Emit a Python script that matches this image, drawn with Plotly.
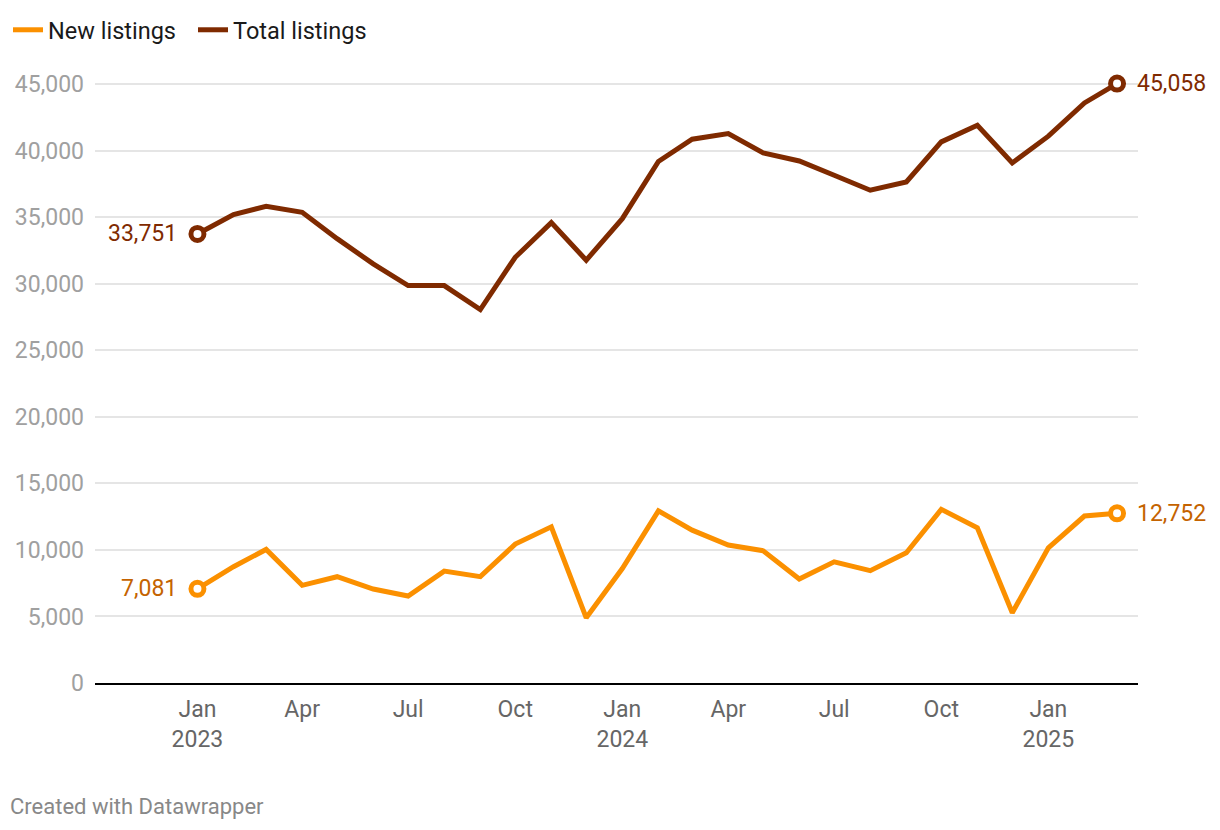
import plotly.graph_objects as go

months = ["2023-01-01", "2023-02-01", "2023-03-01", "2023-04-01", "2023-05-01", "2023-06-01",
          "2023-07-01", "2023-08-01", "2023-09-01", "2023-10-01", "2023-11-01", "2023-12-01",
          "2024-01-01", "2024-02-01", "2024-03-01", "2024-04-01", "2024-05-01", "2024-06-01",
          "2024-07-01", "2024-08-01", "2024-09-01", "2024-10-01", "2024-11-01", "2024-12-01",
          "2025-01-01", "2025-02-01", "2025-03-01"]

new_listings = [7081, 8740, 10040, 7340, 7990, 7060, 6540, 8410, 7990, 10440, 11740, 4900,
                8600, 12940, 11490, 10370, 9940, 7810, 9110, 8440, 9790, 13050, 11670, 5280,
                10160, 12550, 12752]

total_listings = [33751, 35210, 35830, 35380, 33400, 31500, 29870, 29870, 28070, 32000, 34600, 31780,
                  34900, 39200, 40870, 41300, 39840, 39240, 38160, 37040, 37660, 40670, 41920, 39090,
                  41100, 43600, 45058]

tick_vals = ["2023-01-01", "2023-04-01", "2023-07-01", "2023-10-01", "2024-01-01", "2024-04-01",
             "2024-07-01", "2024-10-01", "2025-01-01"]
tick_text = ["Jan<br>2023", "Apr", "Jul", "Oct", "Jan<br>2024", "Apr", "Jul", "Oct", "Jan<br>2025"]

y_ticks = [0, 5000, 10000, 15000, 20000, 25000, 30000, 35000, 40000, 45000]
y_tick_text = ["0", "5,000", "10,000", "15,000", "20,000", "25,000", "30,000", "35,000", "40,000", "45,000"]

ORANGE = "#fb9000"
ORANGE_TXT = "#c46300"
BROWN = "#7f2a00"
BROWN_TXT = "#7f2a00"
FONT = "Roboto"

W, H = 1212, 822
L, R, T, B = 87, 82, 63, 147
PW, PH = W - L - R, H - T - B

fig = go.Figure()

series = [("New listings", new_listings, ORANGE, ORANGE_TXT),
          ("Total listings", total_listings, BROWN, BROWN_TXT)]

for name, vals, col, tcol in series:
    fig.add_trace(go.Scatter(x=months, y=vals, mode="lines", name=name,
                             line=dict(color=col, width=5), hoverinfo="skip"))

for name, vals, col, tcol in series:
    fig.add_trace(go.Scatter(x=[months[0], months[-1]], y=[vals[0], vals[-1]], mode="markers",
                             showlegend=False, cliponaxis=False, hoverinfo="skip",
                             marker=dict(symbol="circle", size=13, color="white",
                                         line=dict(color=col, width=5))))
    fig.add_annotation(x=months[0], y=vals[0], text=f"{vals[0]:,}", showarrow=False,
                       xanchor="right", yanchor="middle", xshift=-18,
                       font=dict(family=FONT, size=23, color=tcol))
    fig.add_annotation(x=months[-1], y=vals[-1], text=f"{vals[-1]:,}", showarrow=False,
                       xanchor="left", yanchor="middle", xshift=18,
                       font=dict(family=FONT, size=23, color=tcol))

fig.add_annotation(text="Created with Datawrapper", xref="paper", yref="paper",
                   x=-L / PW, y=-123 / PH, xanchor="left", yanchor="middle", showarrow=False,
                   font=dict(family=FONT, size=22, color="#888888"))

fig.update_layout(
    width=W, height=H,
    margin=dict(l=L, r=R, t=T, b=B, autoexpand=False),
    paper_bgcolor="white", plot_bgcolor="white",
    font=dict(family=FONT, size=23, color="#222222"),
    showlegend=True,
    legend=dict(orientation="h", x=0.0, xref="container", xanchor="left",
                y=1 - 22 / H, yref="container", yanchor="middle",
                font=dict(family=FONT, size=23.5, color="#1a1a1a"),
                itemwidth=30, entrywidth=140, tracegroupgap=0, bgcolor="rgba(0,0,0,0)"),
    xaxis=dict(type="date", range=["2022-10-05", "2025-03-19"],
               tickvals=tick_vals, ticktext=tick_text, showgrid=False,
               showline=True, linecolor="#000000", linewidth=2,
               ticks="", ticklabelstandoff=4, automargin=False,
               tickfont=dict(family=FONT, size=23, color="#666666"),
               zeroline=False, fixedrange=True),
    yaxis=dict(range=[0, 46000], tickvals=y_ticks, ticktext=y_tick_text,
               showgrid=True, gridcolor="#e5e5e5", gridwidth=1.5,
               zeroline=False, showline=False, ticks="", ticklabelstandoff=10, automargin=False,
               tickfont=dict(family=FONT, size=23, color="#a0a0a0"), fixedrange=True),
)

fig.write_html("out.html")
